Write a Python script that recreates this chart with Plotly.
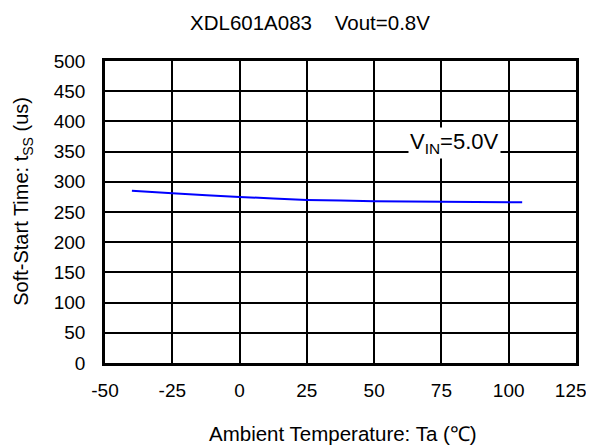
import plotly.graph_objects as go

temps = [-40, -25, 0, 25, 50, 75, 105]
tss_us = [285, 281, 275, 270, 268, 267, 266]

x_ticks = [-50, -25, 0, 25, 50, 75, 100, 125]
x_tick_labels = ["-50", "-25", "0", "25", "50", "75", "100", "125\u2007"]
y_ticks = [0, 50, 100, 150, 200, 250, 300, 350, 400, 450, 500]

FONT = "Liberation Sans, Arial, sans-serif"

fig = go.Figure()
fig.add_trace(go.Scatter(
    x=temps, y=tss_us, mode="lines",
    line=dict(color="#0000FF", width=2, shape="spline", smoothing=0.6),
    showlegend=False, hoverinfo="skip"))

# in-plot label
fig.add_annotation(
    x=80, y=364, xref="x", yref="y", yanchor="middle",
    text="V<sub>IN</sub>=5.0V", showarrow=False,
    font=dict(family=FONT, size=22, color="black"),
    bgcolor="white", borderpad=1)

# title & axis titles as annotations for precise placement
fig.add_annotation(
    x=0.435, y=1.129, xref="paper", yref="paper", xanchor="center", yanchor="middle",
    text="XDL601A083    Vout=0.8V", showarrow=False,
    font=dict(family=FONT, size=20.5, color="black"))
fig.add_annotation(
    x=0.505, y=-0.232, xref="paper", yref="paper", xanchor="center", yanchor="middle",
    text="Ambient Temperature: Ta (℃)", showarrow=False,
    font=dict(family=FONT, size=20.5, color="black"))
fig.add_annotation(
    x=-0.174, y=0.534, xref="paper", yref="paper", xanchor="center", yanchor="middle",
    text="Soft-Start Time: t<sub>SS</sub> (us)", showarrow=False, textangle=-90,
    font=dict(family=FONT, size=20, color="black"))

fig.update_layout(
    width=586, height=440,
    margin=dict(l=97, r=18, t=53, b=85, autoexpand=False),
    paper_bgcolor="white", plot_bgcolor="white",
    font=dict(family=FONT, size=19, color="black"),
    xaxis=dict(range=[-50, 125], tickvals=x_ticks,
               ticktext=x_tick_labels, automargin=False,
               ticklabeloverflow="allow",
               showgrid=True, gridcolor="black", gridwidth=1.6,
               showline=True, linecolor="black", linewidth=2.5, mirror=True,
               zeroline=False, ticks="", ticklen=0, ticklabelstandoff=8,
               tickfont=dict(size=19)),
    yaxis=dict(range=[0, 500], tickvals=y_ticks, automargin=False,
               showgrid=True, gridcolor="black", gridwidth=1.6,
               showline=True, linecolor="black", linewidth=2.5, mirror=True,
               zeroline=False, ticks="", ticklen=0, ticklabelstandoff=13,
               tickfont=dict(size=19)),
)

fig.write_html("out.html")
